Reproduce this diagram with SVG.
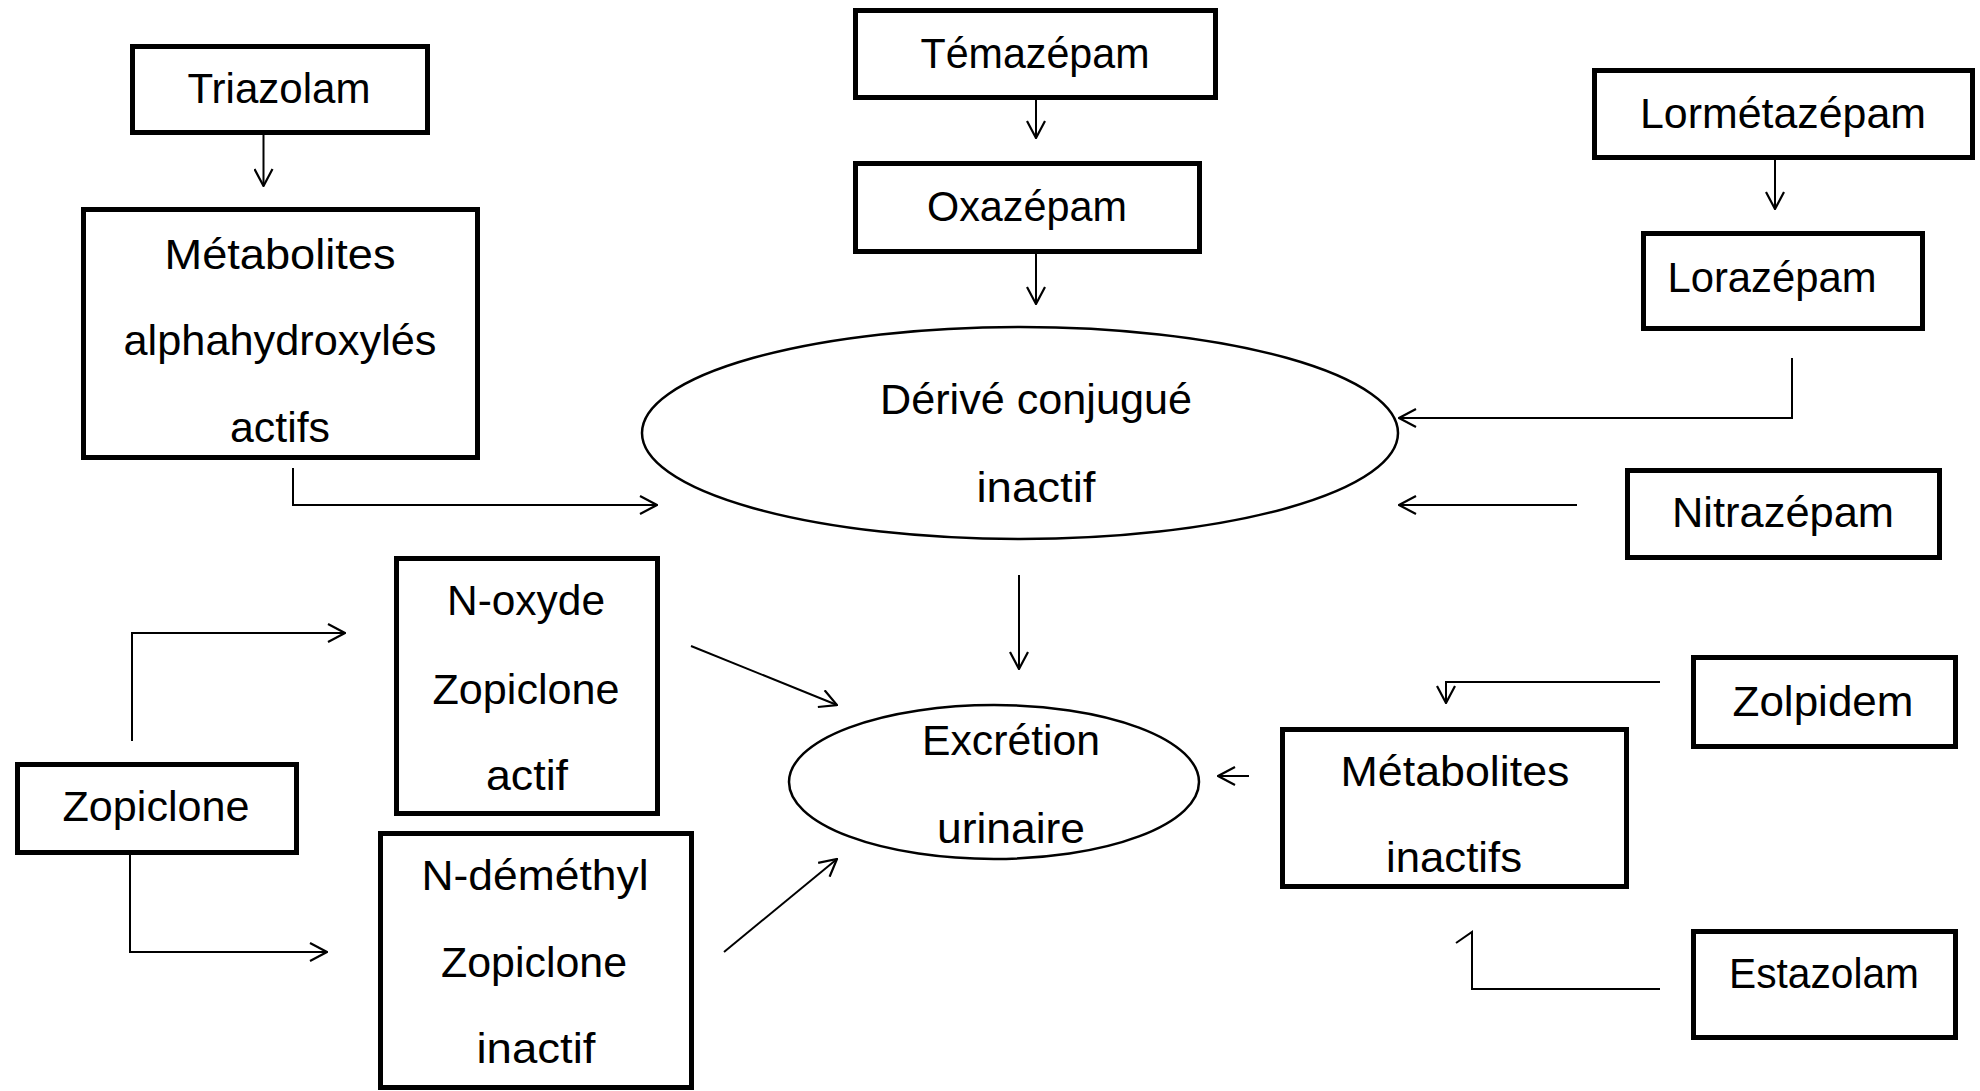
<svg xmlns="http://www.w3.org/2000/svg" width="1980" height="1091" viewBox="0 0 1980 1091">
<style>
.box{fill:#fff;stroke:#000;stroke-width:5}
.ell{fill:#fff;stroke:#000;stroke-width:2.5}
.t{font-family:"Liberation Sans",Arial,sans-serif;font-size:43px;fill:#000;text-anchor:middle}
.c{fill:none;stroke:#000;stroke-width:2}
</style>
<defs>
<marker id="ah" markerUnits="userSpaceOnUse" viewBox="0 0 20 20" markerWidth="20" markerHeight="20" refX="19" refY="10" orient="auto">
<path d="M2,1 L19,10 L2,19" fill="none" stroke="#000" stroke-width="2.2"/>
</marker>
</defs>
<rect width="1980" height="1091" fill="#fff"/>

<g id="connectors">
<path class="c" d="M263.5,128 V186" marker-end="url(#ah)"/>
<path class="c" d="M293,468 V505 H657" marker-end="url(#ah)"/>
<path class="c" d="M1036,93 V138" marker-end="url(#ah)"/>
<path class="c" d="M1036,246 V304" marker-end="url(#ah)"/>
<path class="c" d="M1775,152 V209" marker-end="url(#ah)"/>
<path class="c" d="M1792,358 V418 H1399" marker-end="url(#ah)"/>
<path class="c" d="M1577,505 H1399" marker-end="url(#ah)"/>
<path class="c" d="M1019,575 V669" marker-end="url(#ah)"/>
<path class="c" d="M132,741 V633 H345" marker-end="url(#ah)"/>
<path class="c" d="M130,846 V952 H327" marker-end="url(#ah)"/>
<path class="c" d="M691,646 L837,705" marker-end="url(#ah)"/>
<path class="c" d="M724,952 L837,859" marker-end="url(#ah)"/>
<path class="c" d="M1249,776 H1218" marker-end="url(#ah)"/>
<path class="c" d="M1660,682 H1446 V703" marker-end="url(#ah)"/>
<path class="c" d="M1660,989 H1472 V932 L1456,943"/>
</g>

<g id="triazolam">
<rect class="box" x="132.5" y="46.5" width="295" height="86"/>
<text class="t" x="279" y="103" textLength="183" lengthAdjust="spacingAndGlyphs">Triazolam</text>
</g>
<g id="metabolites-actifs">
<rect class="box" x="83.5" y="209.5" width="394" height="248"/>
<text class="t" x="280" y="269" textLength="231" lengthAdjust="spacingAndGlyphs">Métabolites</text>
<text class="t" x="280" y="355" textLength="313" lengthAdjust="spacingAndGlyphs">alphahydroxylés</text>
<text class="t" x="280" y="442" textLength="100" lengthAdjust="spacingAndGlyphs">actifs</text>
</g>
<g id="temazepam">
<rect class="box" x="855.5" y="10.5" width="360" height="87"/>
<text class="t" x="1035" y="68" textLength="229" lengthAdjust="spacingAndGlyphs">Témazépam</text>
</g>
<g id="oxazepam">
<rect class="box" x="855.5" y="163.5" width="344" height="88"/>
<text class="t" x="1027" y="221" textLength="200" lengthAdjust="spacingAndGlyphs">Oxazépam</text>
</g>
<g id="derive-conjugue">
<ellipse class="ell" cx="1020" cy="433" rx="378" ry="106"/>
<text class="t" x="1036" y="414" textLength="312" lengthAdjust="spacingAndGlyphs">Dérivé conjugué</text>
<text class="t" x="1036" y="502" textLength="119" lengthAdjust="spacingAndGlyphs">inactif</text>
</g>
<g id="lormetazepam">
<rect class="box" x="1594.5" y="70.5" width="378" height="87"/>
<text class="t" x="1783" y="128" textLength="286" lengthAdjust="spacingAndGlyphs">Lormétazépam</text>
</g>
<g id="lorazepam">
<rect class="box" x="1643.5" y="233.5" width="279" height="95"/>
<text class="t" x="1772" y="292" textLength="209" lengthAdjust="spacingAndGlyphs">Lorazépam</text>
</g>
<g id="nitrazepam">
<rect class="box" x="1627.5" y="470.5" width="312" height="87"/>
<text class="t" x="1783" y="527" textLength="222" lengthAdjust="spacingAndGlyphs">Nitrazépam</text>
</g>
<g id="zopiclone">
<rect class="box" x="17.5" y="764.5" width="279" height="88"/>
<text class="t" x="156" y="821" textLength="187" lengthAdjust="spacingAndGlyphs">Zopiclone</text>
</g>
<g id="n-oxyde">
<rect class="box" x="396.5" y="558.5" width="261" height="255"/>
<text class="t" x="526" y="615" textLength="158" lengthAdjust="spacingAndGlyphs">N-oxyde</text>
<text class="t" x="526" y="704" textLength="187" lengthAdjust="spacingAndGlyphs">Zopiclone</text>
<text class="t" x="527" y="790" textLength="82" lengthAdjust="spacingAndGlyphs">actif</text>
</g>
<g id="n-demethyl">
<rect class="box" x="380.5" y="833.5" width="311" height="254"/>
<text class="t" x="535" y="890" textLength="227" lengthAdjust="spacingAndGlyphs">N-déméthyl</text>
<text class="t" x="534" y="977" textLength="186" lengthAdjust="spacingAndGlyphs">Zopiclone</text>
<text class="t" x="536" y="1063" textLength="119" lengthAdjust="spacingAndGlyphs">inactif</text>
</g>
<g id="excretion">
<ellipse class="ell" cx="994" cy="782" rx="205" ry="77"/>
<text class="t" x="1011" y="755" textLength="178" lengthAdjust="spacingAndGlyphs">Excrétion</text>
<text class="t" x="1011" y="843" textLength="148" lengthAdjust="spacingAndGlyphs">urinaire</text>
</g>
<g id="metabolites-inactifs">
<rect class="box" x="1282.5" y="729.5" width="344" height="157"/>
<text class="t" x="1455" y="786" textLength="229" lengthAdjust="spacingAndGlyphs">Métabolites</text>
<text class="t" x="1454" y="872" textLength="136" lengthAdjust="spacingAndGlyphs">inactifs</text>
</g>
<g id="zolpidem">
<rect class="box" x="1693.5" y="657.5" width="262" height="89"/>
<text class="t" x="1823" y="716" textLength="181" lengthAdjust="spacingAndGlyphs">Zolpidem</text>
</g>
<g id="estazolam">
<rect class="box" x="1693.5" y="931.5" width="262" height="106"/>
<text class="t" x="1824" y="988" textLength="190" lengthAdjust="spacingAndGlyphs">Estazolam</text>
</g>
</svg>
